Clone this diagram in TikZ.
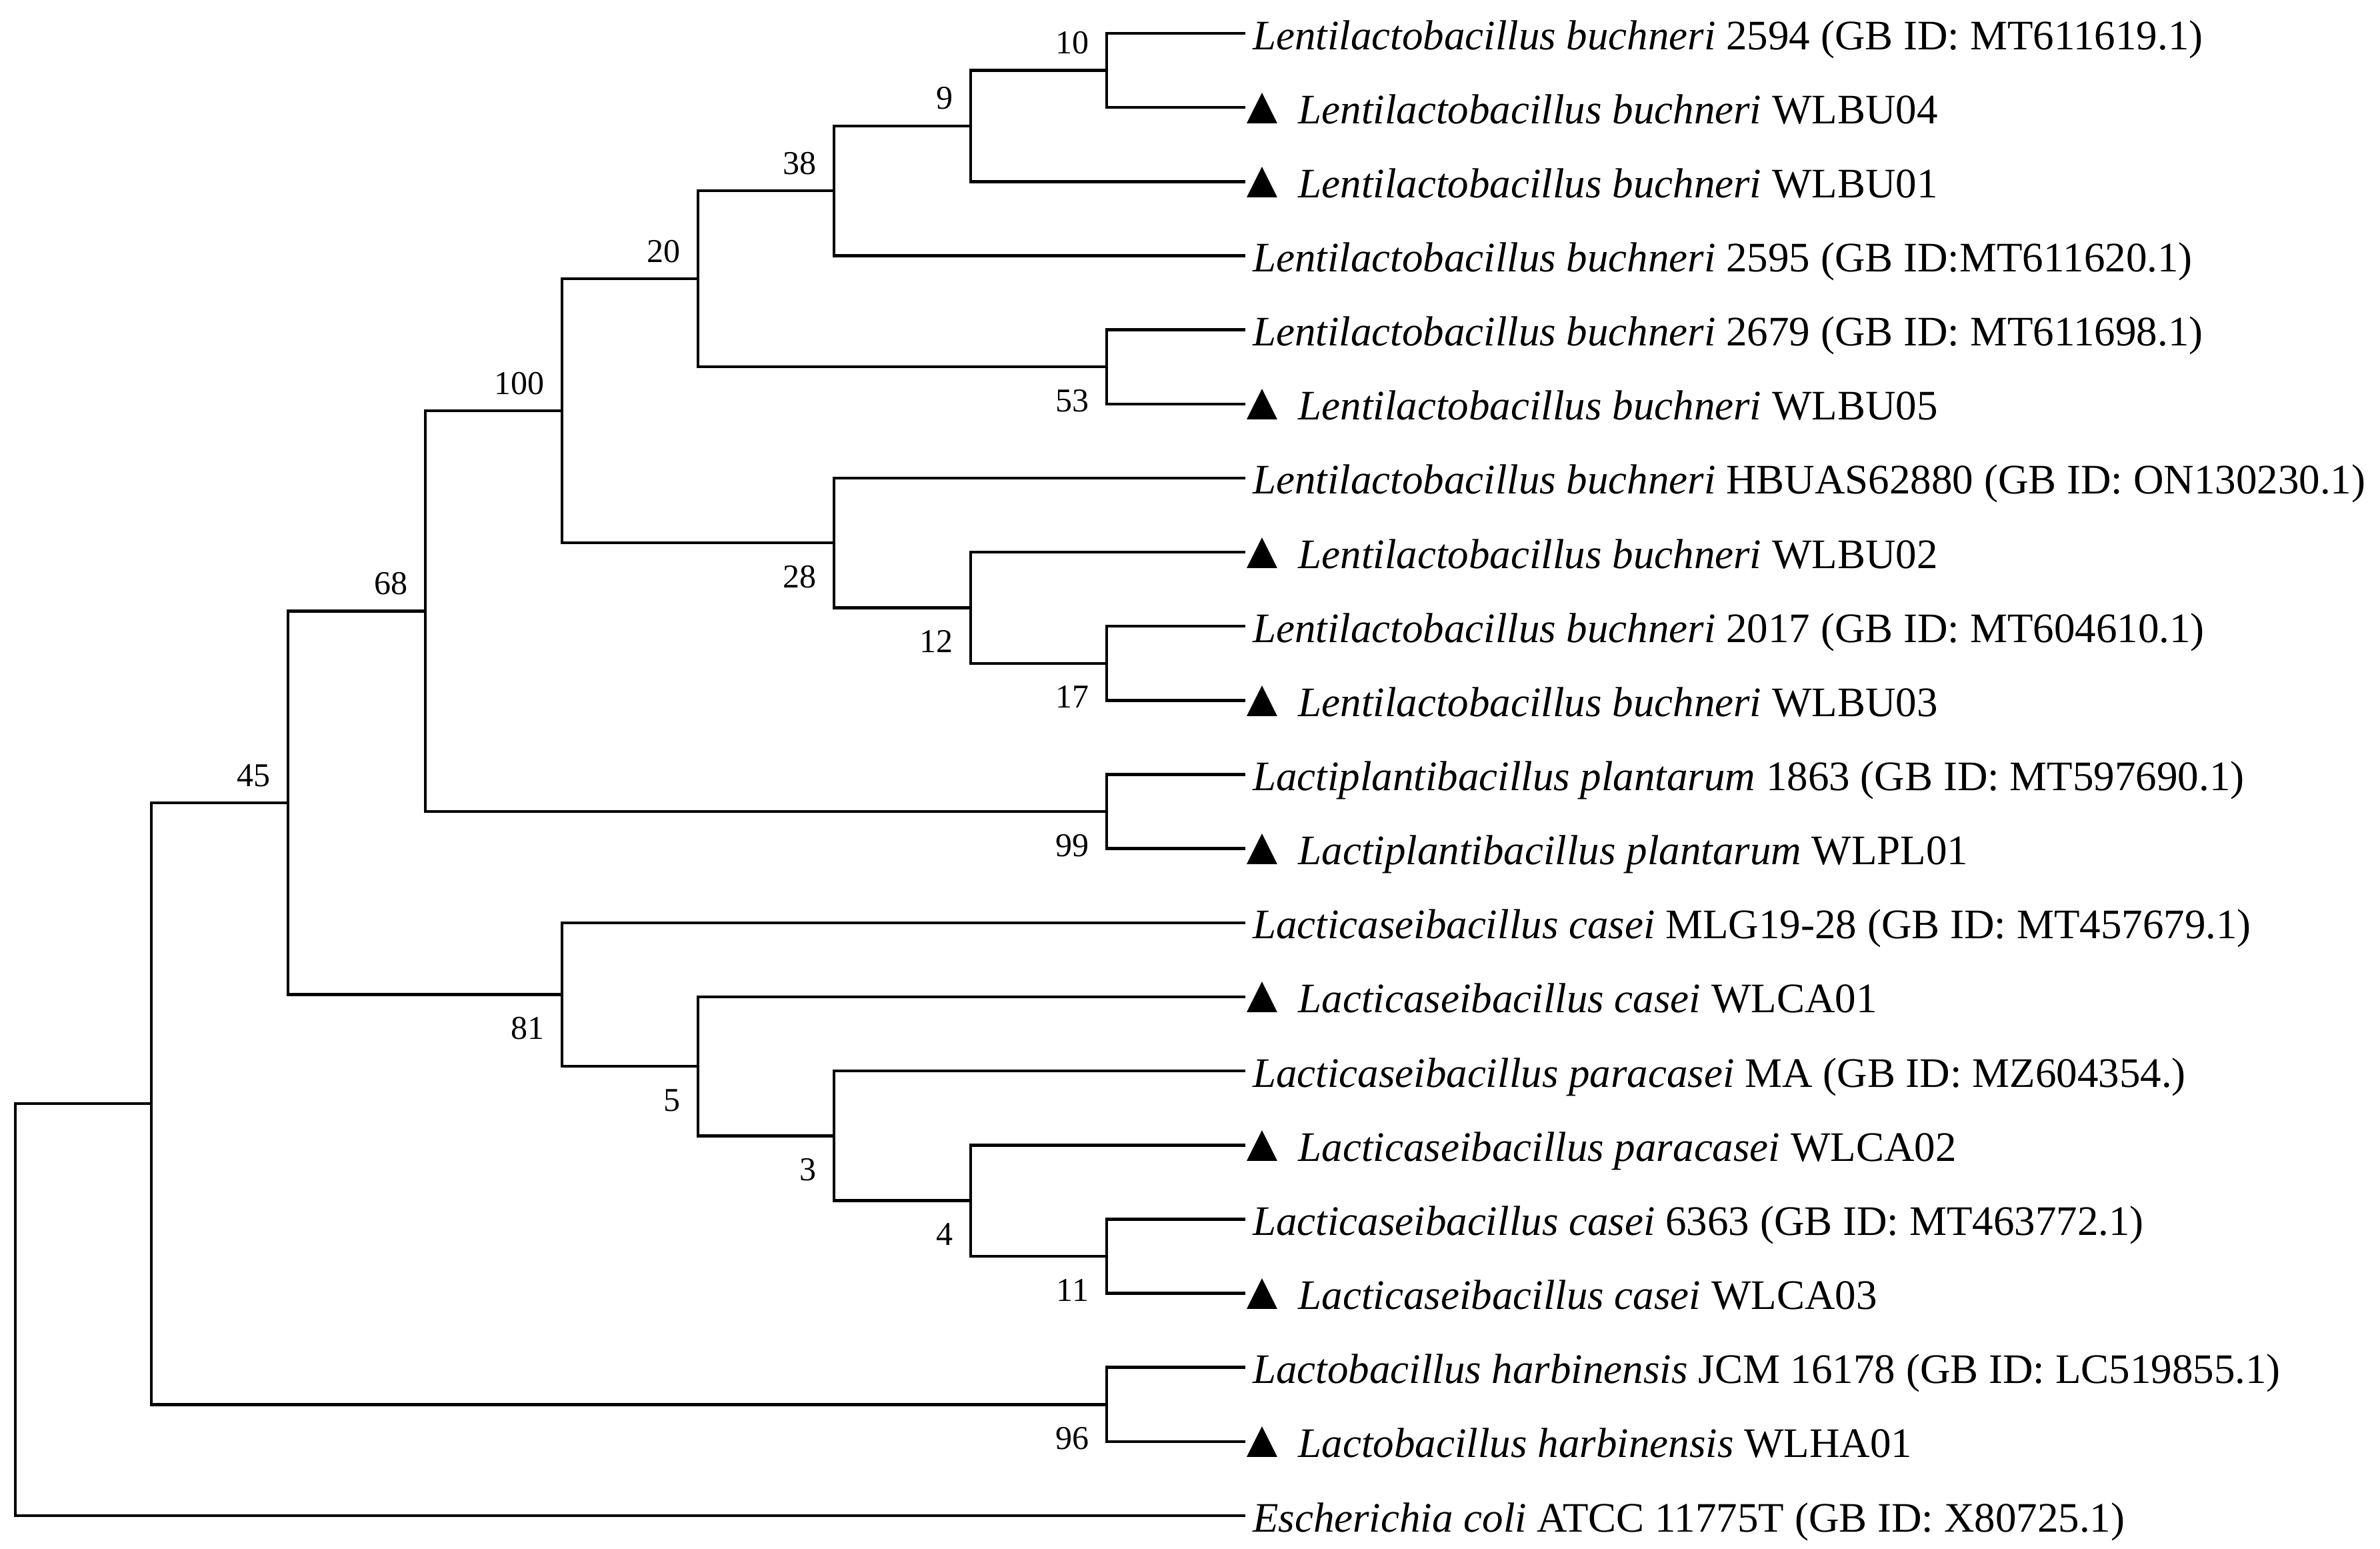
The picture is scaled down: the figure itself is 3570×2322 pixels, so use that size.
\documentclass[tikz,border=0pt]{standalone}
\usepackage{fontspec}
\setmainfont{Liberation Serif}
\newcommand\mytri{\scalebox{1.25}{▲}}
\begin{document}
\begin{tikzpicture}[x=0.2pt,y=-0.2pt,
  br/.style={line width=0.9pt, line join=miter, line cap=rect},
  leaf/.style={anchor=base west, inner sep=0pt, font=\fontsize{12.6}{15}\selectfont},
  bs/.style={anchor=base east, inner sep=0pt, font=\fontsize{10}{12}\selectfont}]
\useasboundingbox (0,0) rectangle (3570,2322);
% leaf ends
\coordinate (l1) at (1866,50);
\coordinate (l2) at (1866,161.15);
\coordinate (l3) at (1866,272.3);
\coordinate (l4) at (1866,383.45);
\coordinate (l5) at (1866,494.6);
\coordinate (l6) at (1866,605.75);
\coordinate (l7) at (1866,716.9);
\coordinate (l8) at (1866,828.05);
\coordinate (l9) at (1866,939.2);
\coordinate (l10) at (1866,1050.35);
\coordinate (l11) at (1866,1161.5);
\coordinate (l12) at (1866,1272.65);
\coordinate (l13) at (1866,1383.8);
\coordinate (l14) at (1866,1494.95);
\coordinate (l15) at (1866,1606.1);
\coordinate (l16) at (1866,1717.25);
\coordinate (l17) at (1866,1828.4);
\coordinate (l18) at (1866,1939.55);
\coordinate (l19) at (1866,2050.7);
\coordinate (l20) at (1866,2161.85);
\coordinate (l21) at (1866,2273);
% internal nodes
\coordinate (n10) at (1660,105.6);
\coordinate (n9) at (1456,188.9);
\coordinate (n38) at (1251,286.2);
\coordinate (n53) at (1660,550.2);
\coordinate (n20) at (1047,418.2);
\coordinate (n17) at (1660,994.8);
\coordinate (n12) at (1456,911.4);
\coordinate (n28) at (1251,814.2);
\coordinate (n100) at (843,616.2);
\coordinate (n99) at (1660,1217.1);
\coordinate (n68) at (638,916.6);
\coordinate (n11) at (1660,1884);
\coordinate (n4) at (1456,1800.6);
\coordinate (n3) at (1251,1703.4);
\coordinate (n5) at (1047,1599.2);
\coordinate (n81) at (843,1491.5);
\coordinate (n45) at (432,1204);
\coordinate (n96) at (1660,2106.3);
\coordinate (nA) at (227,1655.2);
\coordinate (root) at (23,1964);
% branches
\draw[br] (n10) |- (l1); \draw[br] (n10) |- (l2);
\draw[br] (n9) |- (n10); \draw[br] (n9) |- (l3);
\draw[br] (n38) |- (n9); \draw[br] (n38) |- (l4);
\draw[br] (n53) |- (l5); \draw[br] (n53) |- (l6);
\draw[br] (n20) |- (n38); \draw[br] (n20) |- (n53);
\draw[br] (n17) |- (l9); \draw[br] (n17) |- (l10);
\draw[br] (n12) |- (l8); \draw[br] (n12) |- (n17);
\draw[br] (n28) |- (l7); \draw[br] (n28) |- (n12);
\draw[br] (n100) |- (n20); \draw[br] (n100) |- (n28);
\draw[br] (n99) |- (l11); \draw[br] (n99) |- (l12);
\draw[br] (n68) |- (n100); \draw[br] (n68) |- (n99);
\draw[br] (n11) |- (l17); \draw[br] (n11) |- (l18);
\draw[br] (n4) |- (l16); \draw[br] (n4) |- (n11);
\draw[br] (n3) |- (l15); \draw[br] (n3) |- (n4);
\draw[br] (n5) |- (l14); \draw[br] (n5) |- (n3);
\draw[br] (n81) |- (l13); \draw[br] (n81) |- (n5);
\draw[br] (n45) |- (n68); \draw[br] (n45) |- (n81);
\draw[br] (n96) |- (l19); \draw[br] (n96) |- (l20);
\draw[br] (nA) |- (n45); \draw[br] (nA) |- (n96);
\draw[br] (root) |- (nA); \draw[br] (root) |- (l21);
% bootstrap values
\node[bs] (b10) at ([shift={(-26,-25)}]n10) {10};
\node[bs] (b9) at ([shift={(-26,-25)}]n9) {9};
\node[bs] (b38) at ([shift={(-26,-25)}]n38) {38};
\node[bs] (b20) at ([shift={(-26,-25)}]n20) {20};
\node[bs] (b100) at ([shift={(-26,-25)}]n100) {100};
\node[bs] (b68) at ([shift={(-26,-25)}]n68) {68};
\node[bs] (b45) at ([shift={(-26,-25)}]n45) {45};
\node[bs] (b53) at ([shift={(-26,67)}]n53) {53};
\node[bs] (b28) at ([shift={(-26,67)}]n28) {28};
\node[bs] (b12) at ([shift={(-26,67)}]n12) {12};
\node[bs] (b17) at ([shift={(-26,67)}]n17) {17};
\node[bs] (b99) at ([shift={(-26,67)}]n99) {99};
\node[bs] (b81) at ([shift={(-26,67)}]n81) {81};
\node[bs] (b5) at ([shift={(-26,67)}]n5) {5};
\node[bs] (b3) at ([shift={(-26,67)}]n3) {3};
\node[bs] (b4) at ([shift={(-26,67)}]n4) {4};
\node[bs] (b11) at ([shift={(-26,67)}]n11) {11};
\node[bs] (b96) at ([shift={(-26,67)}]n96) {96};
% leaf labels
\node[leaf] (t1) at ([shift={(12,24)}]l1) {\textit{Lentilactobacillus buchneri} 2594 (GB ID: MT611619.1)};
\node[leaf] (t2) at ([shift={(-13,24)}]l2) {\mytri\ \textit{Lentilactobacillus buchneri} WLBU04};
\node[leaf] (t3) at ([shift={(-13,24)}]l3) {\mytri\ \textit{Lentilactobacillus buchneri} WLBU01};
\node[leaf] (t4) at ([shift={(12,24)}]l4) {\textit{Lentilactobacillus buchneri} 2595 (GB ID:MT611620.1)};
\node[leaf] (t5) at ([shift={(12,24)}]l5) {\textit{Lentilactobacillus buchneri} 2679 (GB ID: MT611698.1)};
\node[leaf] (t6) at ([shift={(-13,24)}]l6) {\mytri\ \textit{Lentilactobacillus buchneri} WLBU05};
\node[leaf] (t7) at ([shift={(12,24)}]l7) {\textit{Lentilactobacillus buchneri} HBUAS62880 (GB ID: ON130230.1)};
\node[leaf] (t8) at ([shift={(-13,24)}]l8) {\mytri\ \textit{Lentilactobacillus buchneri} WLBU02};
\node[leaf] (t9) at ([shift={(12,24)}]l9) {\textit{Lentilactobacillus buchneri} 2017 (GB ID: MT604610.1)};
\node[leaf] (t10) at ([shift={(-13,24)}]l10) {\mytri\ \textit{Lentilactobacillus buchneri} WLBU03};
\node[leaf] (t11) at ([shift={(12,24)}]l11) {\textit{Lactiplantibacillus plantarum} 1863 (GB ID: MT597690.1)};
\node[leaf] (t12) at ([shift={(-13,24)}]l12) {\mytri\ \textit{Lactiplantibacillus plantarum} WLPL01};
\node[leaf] (t13) at ([shift={(12,24)}]l13) {\textit{Lacticaseibacillus casei} MLG19-28 (GB ID: MT457679.1)};
\node[leaf] (t14) at ([shift={(-13,24)}]l14) {\mytri\ \textit{Lacticaseibacillus casei} WLCA01};
\node[leaf] (t15) at ([shift={(12,24)}]l15) {\textit{Lacticaseibacillus paracasei} MA (GB ID: MZ604354.)};
\node[leaf] (t16) at ([shift={(-13,24)}]l16) {\mytri\ \textit{Lacticaseibacillus paracasei} WLCA02};
\node[leaf] (t17) at ([shift={(12,24)}]l17) {\textit{Lacticaseibacillus casei} 6363 (GB ID: MT463772.1)};
\node[leaf] (t18) at ([shift={(-13,24)}]l18) {\mytri\ \textit{Lacticaseibacillus casei} WLCA03};
\node[leaf] (t19) at ([shift={(12,24)}]l19) {\textit{Lactobacillus harbinensis} JCM 16178 (GB ID: LC519855.1)};
\node[leaf] (t20) at ([shift={(-13,24)}]l20) {\mytri\ \textit{Lactobacillus harbinensis} WLHA01};
\node[leaf] (t21) at ([shift={(12,24)}]l21) {\textit{Escherichia coli} ATCC 11775T (GB ID: X80725.1)};
\end{tikzpicture}
\end{document}
